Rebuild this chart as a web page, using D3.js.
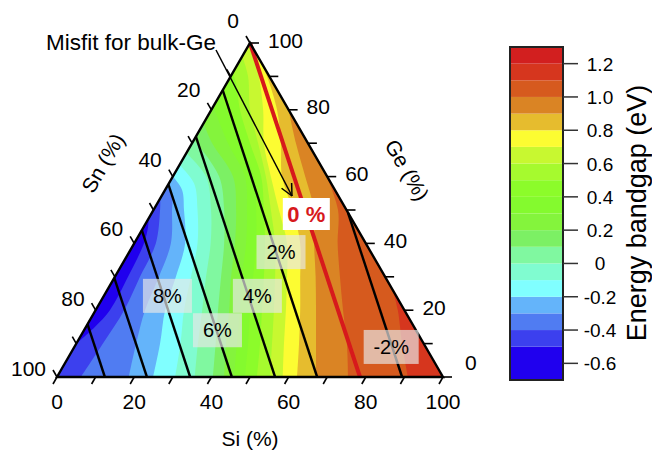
<!DOCTYPE html>
<html><head><meta charset="utf-8">
<script src="https://cdn.jsdelivr.net/npm/d3@7"></script>
<style>
body{margin:0;background:#fff}
svg{font-family:"Liberation Sans",Arial,Helvetica,sans-serif}
</style>
</head><body>
<svg id="chart" width="652" height="450"></svg>
<script>
// ---------------- data ----------------
// Iso-bandgap boundaries read from the map: [Ge %, Si %] points, each from one triangle edge to another.
// The region to the right of each boundary has a bandgap >= that level.
const iso_m05 = [[10,0],[15,2.3],[20,3.7],[30,3.4],[40,2.5],[45,1.1],[47.5,0]];
const iso_m04 = [[0,6.2],[10,6.9],[20,7.4],[30,6.5],[40,5.6],[50,1.7],[53.5,0]];
const iso_m03 = [[0,18.6],[10,15.5],[20,12.8],[30,11.4],[40,9.5],[50,4.8],[54,2.8],[57,0]];
const iso_m02 = [[0,24.9],[10,21.7],[20,18.0],[30,15.8],[40,13.2],[50,7.9],[56,4.4],[60,0]];
const iso_m01 = [[0,30.6],[10,27.0],[20,22.9],[30,19.7],[40,16.4],[50,11.4],[58,6.5],[63.5,0]];
const iso_000 = [[0,35.7],[10,31.5],[20,27.6],[30,23.6],[40,19.8],[50,14.9],[60,8.6],[67,0]];
const iso_010 = [[0,40.4],[10,36.1],[20,31.7],[30,27.5],[40,23.3],[50,18.3],[60,12.0],[71,0]];
const iso_020 = [[0,43.3],[10,38.8],[20,34.6],[30,30.1],[40,26.1],[50,21.4],[60,15.6],[70,5.2],[76,0]];
const iso_030 = [[0,45.9],[10,41.6],[20,37.4],[30,32.9],[40,29.0],[50,24.2],[60,18.7],[70,9.3],[81,0]];
const iso_040 = [[0,48.7],[10,44.5],[20,40.0],[30,35.8],[40,31.6],[50,26.6],[60,21.0],[70,12.4],[80,4.0],[85,0]];
const iso_050 = [[0,51.8],[10,47.6],[20,43.1],[30,38.6],[40,33.9],[50,28.6],[60,22.9],[70,15.0],[80,7.4],[88,2.4],[91,0]];
const iso_060 = [[0,55.2],[10,50.7],[20,46.2],[30,41.5],[40,36.5],[50,30.4],[60,24.1],[70,17.1],[80,10.0],[90,4.5],[96,0]];
const iso_070 = [[0,58.5],[10,53.8],[20,49.3],[30,44.6],[40,39.6],[50,32.5],[60,25.4],[70,18.6],[80,13.4],[90,7.3],[99.5,0.5]];
const iso_080 = [[0,62.2],[10,57.7],[20,53.0],[30,48.0],[40,43.0],[50,36.1],[60,28.3],[70,23.0],[80,17.0],[90,9.4],[95,5]];
const iso_090 = [[0,67.1],[10,62.1],[20,57.1],[30,52.0],[40,46.6],[50,41.6],[60,34.3],[70,26.9],[80,20]];
const iso_100 = [[0,75.4],[10,70.1],[20,64.1],[30,58.3],[40,52.7],[50,47.8],[61,39]];
const iso_110 = [[0,90.9],[10,84.4],[20,78.3],[26,74]];

// colour levels of the map / colour bar (eV)
const levels = [-0.7,-0.5,-0.4,-0.3,-0.2,-0.1,0,0.1,0.2,0.3,0.4,0.5,0.6,0.7,0.8,0.9,1.0,1.1,1.2,1.3];
const levelColors = ["#2000ee","#3c40ee","#507cf2","#64b4fa","#80ffff","#80fcd0","#80f8a0",
  "#7cf064","#84f43c","#84fa2e","#8cfc2a","#a6fa2e","#c8f830","#fcfc32","#e6bc2e",
  "#da8424","#d65a1e","#d6361e","#d21f1f"];
const isoLevels = [-0.5,-0.4,-0.3,-0.2,-0.1,0,0.1,0.2,0.3,0.4,0.5,0.6,0.7,0.8,0.9,1.0,1.1];
const isoLines = [iso_m05,iso_m04,iso_m03,iso_m02,iso_m01,iso_000,iso_010,iso_020,iso_030,
                  iso_040,iso_050,iso_060,iso_070,iso_080,iso_090,iso_100,iso_110];

const colorbarTicks = [1.2,1.0,0.8,0.6,0.4,0.2,0,-0.2,-0.4,-0.6];
const colorbarTickLabels = ["1.2","1.0","0.8","0.6","0.4","0.2","0","-0.2","-0.4","-0.6"];

// misfit iso-lines (% misfit vs bulk Ge); Si % where each line meets the Si axis (Ge = 0)
const misfitPct = [12,10,8,6,4,2,0,-2];
const misfitSiAtGe0 = [12.4,23.3,34.5,45.3,56.5,67.4,78.5,89.4];
const misfitLabels = ["","","8%","6%","4%","2%","0 %","-2%"];
// change of Si and Sn (%) per +1 % Ge along a misfit line
const misfitDirSi = -0.785, misfitDirSn = -0.215;

const axisTicks = [0,10,20,30,40,50,60,70,80,90,100];
const axisTickLabels = [0,20,40,60,80,100];

// ---------------- drawing ----------------
const svg = d3.select("#chart");
const siScale = d3.scaleLinear().domain([0,100]).range([57,443]);
const geScale = d3.scaleLinear().domain([0,100]).range([377,43]);
const tern = (si, ge) => [siScale(si + ge/2), geScale(ge)];

const vertexXY = [tern(0,0), tern(100,0), tern(0,100)];   // Sn100, Si100, Ge100
const triStr = vertexXY.map(p=>p.join(",")).join(" ");
svg.append("clipPath").attr("id","tri").append("polygon").attr("points", triStr);

// perimeter parameter: bottom 0..1, right edge 1..2, left edge 2..3
function perimP(pt){
  const ge = pt[0], si = pt[1], sn = 100-ge-si;
  if (ge < 1e-6) return si/100;
  if (Math.abs(sn) < 1e-6) return 1 + ge/100;
  return 2 + sn/100;
}
const curve = d3.line()
  .x(d=>tern(d[1],d[0])[0]).y(d=>tern(d[1],d[0])[1])
  .curve(d3.curveCatmullRom.alpha(0.5));
function regionPath(pts){
  let s = curve(pts);
  const ps = perimP(pts[0]), pe = perimP(pts[pts.length-1]);
  const dist = ((pe-ps)%3+3)%3;
  [0,1,2].map(v=>({v, dv:((pe-v)%3+3)%3}))
    .filter(o=>o.dv>0 && o.dv<dist).sort((a,b)=>a.dv-b.dv)
    .forEach(o=>{ const q = vertexXY[o.v]; s += "L"+q[0]+","+q[1]; });
  return s + "Z";
}

const gMap = svg.append("g").attr("clip-path","url(#tri)");
gMap.append("polygon").attr("points", triStr).attr("fill", levelColors[0]);
gMap.selectAll("path.band").data(isoLines).join("path").attr("class","band")
  .attr("d", regionPath)
  .attr("fill", (d,i)=>levelColors[levels.indexOf(isoLevels[i])]);

// misfit lines
const lineData = misfitPct.map((m,i)=>{
  const s0 = misfitSiAtGe0[i];
  const gEnd = Math.min(s0/(-misfitDirSi), (100-s0)/(-misfitDirSn));
  return {m, s0, gEnd, label: misfitLabels[i]};
});
const pointOn = (d, g) => tern(d.s0 + misfitDirSi*g, g);
svg.append("g").selectAll("line").data(lineData).join("line")
  .attr("x1", d=>pointOn(d,0)[0]).attr("y1", d=>pointOn(d,0)[1])
  .attr("x2", d=>pointOn(d,d.gEnd)[0]).attr("y2", d=>pointOn(d,d.gEnd)[1])
  .attr("stroke", d=>d.m===0 ? "#d7191c" : "#000")
  .attr("stroke-width", d=>d.m===0 ? 4 : 2.4);

// triangle outline
svg.append("polygon").attr("points", triStr)
  .attr("fill","none").attr("stroke","#000").attr("stroke-width",2.4);

// axes ticks
const tk = svg.append("g").attr("stroke","#000").attr("stroke-width",1.6);
axisTicks.forEach(v=>{
  const b = tern(v,0); tk.append("line").attr("x1",b[0]).attr("y1",b[1]).attr("x2",b[0]-4).attr("y2",b[1]+7);
  const r = tern(100-v,v); tk.append("line").attr("x1",r[0]).attr("y1",r[1]).attr("x2",r[0]+9).attr("y2",r[1]);
  const l = tern(0,100-v); tk.append("line").attr("x1",l[0]).attr("y1",l[1]).attr("x2",l[0]-4).attr("y2",l[1]-7);
});
const lab = svg.append("g").attr("font-size",21).attr("fill","#000");
axisTickLabels.forEach(v=>{
  const b = tern(v,0);
  lab.append("text").attr("x",b[0]).attr("y",409).attr("text-anchor","middle").text(v);
  const r = tern(100-v,v);
  lab.append("text").attr("x",r[0]+(v===0?22:18)).attr("y",r[1]+4.5-(v===0?12:0)).text(v);
  const l = tern(0,100-v);
  lab.append("text").attr("x",l[0]-11).attr("y",l[1]-15.5+0.14*v).attr("text-anchor","end").text(v);
});
lab.append("text").attr("x",250).attr("y",446).attr("text-anchor","middle").text("Si (%)");
lab.append("text").attr("transform","translate(103,163) rotate(-60)").attr("text-anchor","middle")
  .attr("dy","0.35em").text("Sn (%)");
lab.append("text").attr("transform","translate(407,170) rotate(60)").attr("text-anchor","middle")
  .attr("dy","0.35em").text("Ge (%)");

// misfit labels
const labelLayout = {"8%":{g:24.3,dx:4},"6%":{g:14,dx:1},"4%":{g:24.3,dx:9},"2%":{g:37.4,dx:5},"-2%":{g:9,dx:-1}};
lineData.filter(d=>labelLayout[d.label]).forEach(d=>{
  const L = labelLayout[d.label]; const p = pointOn(d, L.g);
  const w = d.label.length>2 ? 55 : 49, h = 34;
  svg.append("rect").attr("x",p[0]+L.dx-w/2).attr("y",p[1]-h/2).attr("width",w).attr("height",h)
    .attr("fill","#e8e8e8").attr("fill-opacity",0.68);
  svg.append("text").attr("x",p[0]+L.dx).attr("y",p[1]+7).attr("text-anchor","middle")
    .attr("font-size",20).text(d.label);
});
const zero = lineData.find(d=>d.m===0); const zp = pointOn(zero, 48.8);
svg.append("rect").attr("x",zp[0]-23.5).attr("y",zp[1]-16).attr("width",47).attr("height",32).attr("fill","#fff");
svg.append("text").attr("x",zp[0]).attr("y",zp[1]+8).attr("text-anchor","middle").attr("font-size",22)
  .attr("font-weight","bold").attr("fill","#d7191c").text(zero.label);

// Misfit for bulk-Ge annotation with arrow
svg.append("text").attr("x",46).attr("y",50).attr("font-size",22.5).text("Misfit for bulk-Ge");
const a0=[216,50], a1=[292,196];
svg.append("line").attr("x1",a0[0]).attr("y1",a0[1]).attr("x2",a1[0]).attr("y2",a1[1]).attr("stroke","#000").attr("stroke-width",1.5);
const ang = Math.atan2(a1[1]-a0[1], a1[0]-a0[0]);
[0.45,-0.45].forEach(da=>{
  svg.append("line").attr("x1",a1[0]).attr("y1",a1[1])
    .attr("x2",a1[0]-13*Math.cos(ang+da)).attr("y2",a1[1]-13*Math.sin(ang+da))
    .attr("stroke","#000").attr("stroke-width",1.5);
});

// colour bar
const cb = d3.scaleLinear().domain([levels[0], levels[levels.length-1]]).range([380,47]);
const cbg = svg.append("g");
levelColors.forEach((c,i)=>{
  cbg.append("rect").attr("x",510).attr("width",53)
    .attr("y",cb(levels[i+1])).attr("height",cb(levels[i])-cb(levels[i+1])).attr("fill",c);
});
cbg.append("rect").attr("x",510).attr("y",47).attr("width",53).attr("height",333)
  .attr("fill","none").attr("stroke","#222").attr("stroke-width",2);
colorbarTicks.forEach((v,i)=>{
  cbg.append("line").attr("x1",563).attr("x2",578).attr("y1",cb(v)).attr("y2",cb(v)).attr("stroke","#333").attr("stroke-width",1.5);
  cbg.append("text").attr("x",600).attr("y",cb(v)+7).attr("text-anchor","middle").attr("font-size",19).text(colorbarTickLabels[i]);
});
cbg.append("text").attr("transform","translate(637,213) rotate(-90)").attr("text-anchor","middle")
  .attr("dy","0.35em").attr("font-size",27).text("Energy bandgap (eV)");
</script>
</body></html>
